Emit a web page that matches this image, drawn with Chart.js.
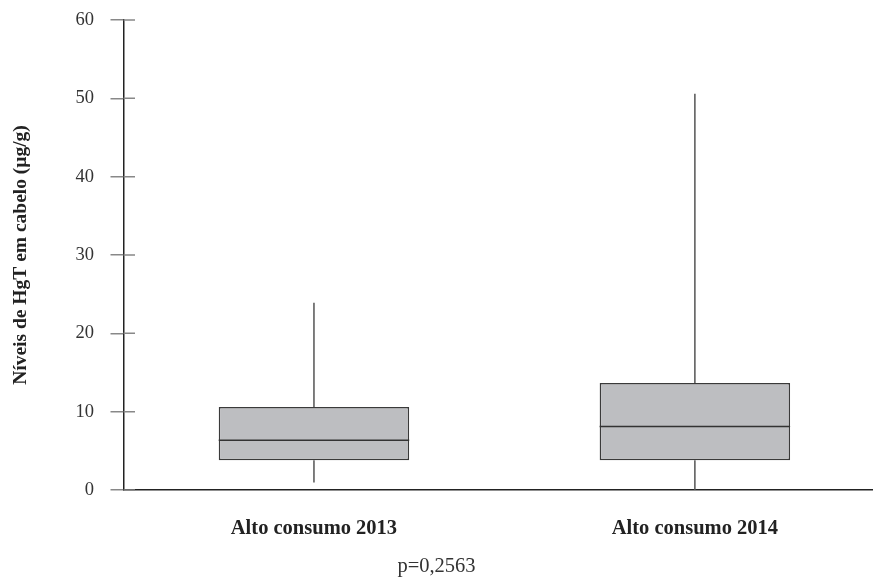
<!DOCTYPE html>
<html>
<head>
<meta charset="utf-8">
<script src="https://cdn.jsdelivr.net/npm/chart.js@4"></script>
<style>
  html, body { margin: 0; padding: 0; background: #fff; overflow: hidden; }
  #wrap { width: 873px; height: 579px; position: relative; }
</style>
</head>
<body>
<div id="wrap"><canvas id="boxChart"></canvas></div>
<script>
// dados
const categories = ['Alto consumo 2013', 'Alto consumo 2014'];
const minValues = [0.95, 0];
const q1Values = [3.8, 3.8];
const medianValues = [6.35, 8.1];
const q3Values = [10.6, 13.65];
const maxValues = [23.9, 50.6];
const yTicks = [0, 10, 20, 30, 40, 50, 60];
const pValue = 'p=0,2563';

const serif = '"Liberation Serif", "DejaVu Serif", serif';

const boxData = categories.map((c, i) => ({ x: i + 1, y: [q1Values[i], q3Values[i]] }));

// bigodes, mediana e a parte interna dos ticks
const boxExtras = {
    id: 'boxExtras',
    afterDatasetsDraw(chart) {
        const { ctx, scales: { x, y } } = chart;
        const meta = chart.getDatasetMeta(0);
        ctx.save();
        meta.data.forEach((bar, i) => {
            const cx = x.getPixelForValue(i + 1);
            const half = bar.width / 2;
            ctx.strokeStyle = '#555';
            ctx.lineWidth = 1.5;
            ctx.beginPath();
            ctx.moveTo(cx, y.getPixelForValue(q3Values[i]));
            ctx.lineTo(cx, y.getPixelForValue(maxValues[i]));
            ctx.moveTo(cx, y.getPixelForValue(q1Values[i]));
            ctx.lineTo(cx, y.getPixelForValue(minValues[i]));
            ctx.stroke();
            ctx.strokeStyle = '#333';
            ctx.beginPath();
            const my = y.getPixelForValue(medianValues[i]);
            ctx.moveTo(cx - half, my);
            ctx.lineTo(cx + half, my);
            ctx.stroke();
        });
        ctx.strokeStyle = '#888';
        ctx.lineWidth = 1.5;
        ctx.beginPath();
        yTicks.forEach(v => {
            const py = y.getPixelForValue(v);
            ctx.moveTo(chart.chartArea.left, py);
            ctx.lineTo(chart.chartArea.left + 11.5, py);
        });
        ctx.stroke();
        ctx.restore();
    }
};

new Chart(document.getElementById('boxChart'), {
    type: 'bar',
    data: {
        datasets: [{
            data: boxData,
            backgroundColor: '#bdbec1',
            borderColor: '#3a3a3a',
            borderWidth: 1.5,
            borderSkipped: false,
            categoryPercentage: 1,
            barPercentage: 0.5
        }]
    },
    options: {
        responsive: true,
        maintainAspectRatio: false,
        animation: false,
        layout: { padding: { top: 20, left: 0, right: 0, bottom: 0 } },
        plugins: {
            legend: { display: false },
            tooltip: { enabled: false },
            title: {
                display: true,
                position: 'bottom',
                text: pValue,
                color: '#333',
                font: { family: serif, size: 20.5, weight: 'normal' },
                padding: { top: 0, bottom: 0 }
            }
        },
        scales: {
            x: {
                type: 'linear',
                offset: false,
                bounds: 'data',
                min: 0.5,
                max: 2.4676,
                afterBuildTicks(scale) {
                    scale.ticks = categories.map((c, i) => ({ value: i + 1 }));
                },
                afterFit(scale) { scale.height = 64.4; },
                grid: { display: false, offset: false },
                border: { display: true, color: '#222', width: 1.5 },
                ticks: {
                    padding: 18,
                    color: '#222',
                    font: { family: serif, size: 20.5, weight: 'bold' },
                    callback: v => categories[v - 1]
                }
            },
            y: {
                min: 0,
                max: 60,
                afterBuildTicks(scale) {
                    scale.ticks = yTicks.map(v => ({ value: v }));
                },
                afterFit(scale) {
                    scale.width = 123.5;
                    scale.paddingTop = 8;
                },
                grid: { drawOnChartArea: false, drawTicks: true, tickLength: 13, color: '#888', lineWidth: 1.5 },
                border: { display: true, color: '#222', width: 1.5 },
                ticks: {
                    padding: 16.5,
                    color: '#333',
                    font: { family: serif, size: 18.5 }
                },
                title: {
                    display: true,
                    text: 'Níveis de HgT em cabelo (μg/g)',
                    color: '#222',
                    font: { family: serif, size: 19.5, weight: 'bold' },
                    padding: { top: 9, bottom: 0 }
                }
            }
        }
    },
    plugins: [boxExtras]
});
</script>
</body>
</html>
